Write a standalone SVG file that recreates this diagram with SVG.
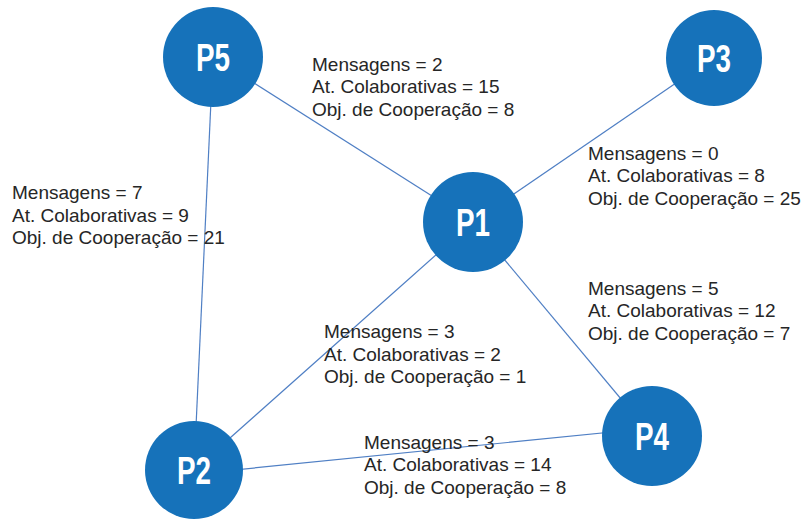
<svg xmlns="http://www.w3.org/2000/svg" width="806" height="520" viewBox="0 0 806 520">
  <style>
    .edge { stroke: #4F7FC4; stroke-width: 1.2; fill: none; }
    .node circle { fill: #1672BA; }
    .node text { font-family: "Liberation Sans Narrow", "Liberation Sans", Arial, sans-serif; font-weight: bold; font-size: 38px; fill: #ffffff; text-anchor: middle; }
    .lbl { font-family: "Liberation Sans", Arial, sans-serif; font-size: 19px; fill: #262626; }
  </style>
  <rect width="806" height="520" fill="#ffffff"/>

  <!-- connectors between participants -->
  <g id="edges">
    <line class="edge" x1="213" y1="57" x2="473" y2="222"/>
    <line class="edge" x1="714" y1="57" x2="473" y2="222"/>
    <line class="edge" x1="213" y1="57" x2="194" y2="470"/>
    <line class="edge" x1="473" y1="222" x2="194" y2="470"/>
    <line class="edge" x1="473" y1="222" x2="652" y2="436"/>
    <line class="edge" x1="194" y1="474" x2="652" y2="428"/>
  </g>

  <!-- participants -->
  <g id="P5" class="node">
    <circle cx="213" cy="57" r="50"/>
    <text x="213" y="71" textLength="34" lengthAdjust="spacingAndGlyphs">P5</text>
  </g>
  <g id="P3" class="node">
    <circle cx="714" cy="58" r="48"/>
    <text x="714" y="72" textLength="34" lengthAdjust="spacingAndGlyphs">P3</text>
  </g>
  <g id="P1" class="node">
    <circle cx="473" cy="222" r="50"/>
    <text x="473" y="236" textLength="34" lengthAdjust="spacingAndGlyphs">P1</text>
  </g>
  <g id="P2" class="node">
    <circle cx="194" cy="470" r="49"/>
    <text x="194" y="484" textLength="34" lengthAdjust="spacingAndGlyphs">P2</text>
  </g>
  <g id="P4" class="node">
    <circle cx="652" cy="436" r="50"/>
    <text x="652" y="450" textLength="34" lengthAdjust="spacingAndGlyphs">P4</text>
  </g>

  <!-- edge statistics -->
  <g id="labels">
    <text class="lbl" x="312" y="70.5">Mensagens = 2</text>
    <text class="lbl" x="312" y="93">At. Colaborativas = 15</text>
    <text class="lbl" x="312" y="115.5">Obj. de Cooperação = 8</text>

    <text class="lbl" x="12" y="199">Mensagens = 7</text>
    <text class="lbl" x="12" y="221.5">At. Colaborativas = 9</text>
    <text class="lbl" x="12" y="244">Obj. de Cooperação = 21</text>

    <text class="lbl" x="588" y="159.5">Mensagens = 0</text>
    <text class="lbl" x="588" y="182">At. Colaborativas = 8</text>
    <text class="lbl" x="588" y="204.5">Obj. de Cooperação = 25</text>

    <text class="lbl" x="588" y="294.5">Mensagens = 5</text>
    <text class="lbl" x="588" y="317">At. Colaborativas = 12</text>
    <text class="lbl" x="588" y="339.5">Obj. de Cooperação = 7</text>

    <text class="lbl" x="324" y="338">Mensagens = 3</text>
    <text class="lbl" x="324" y="360.5">At. Colaborativas = 2</text>
    <text class="lbl" x="324" y="383">Obj. de Cooperação = 1</text>

    <text class="lbl" x="364" y="448.5">Mensagens = 3</text>
    <text class="lbl" x="364" y="471">At. Colaborativas = 14</text>
    <text class="lbl" x="364" y="493.5">Obj. de Cooperação = 8</text>
  </g>
</svg>
